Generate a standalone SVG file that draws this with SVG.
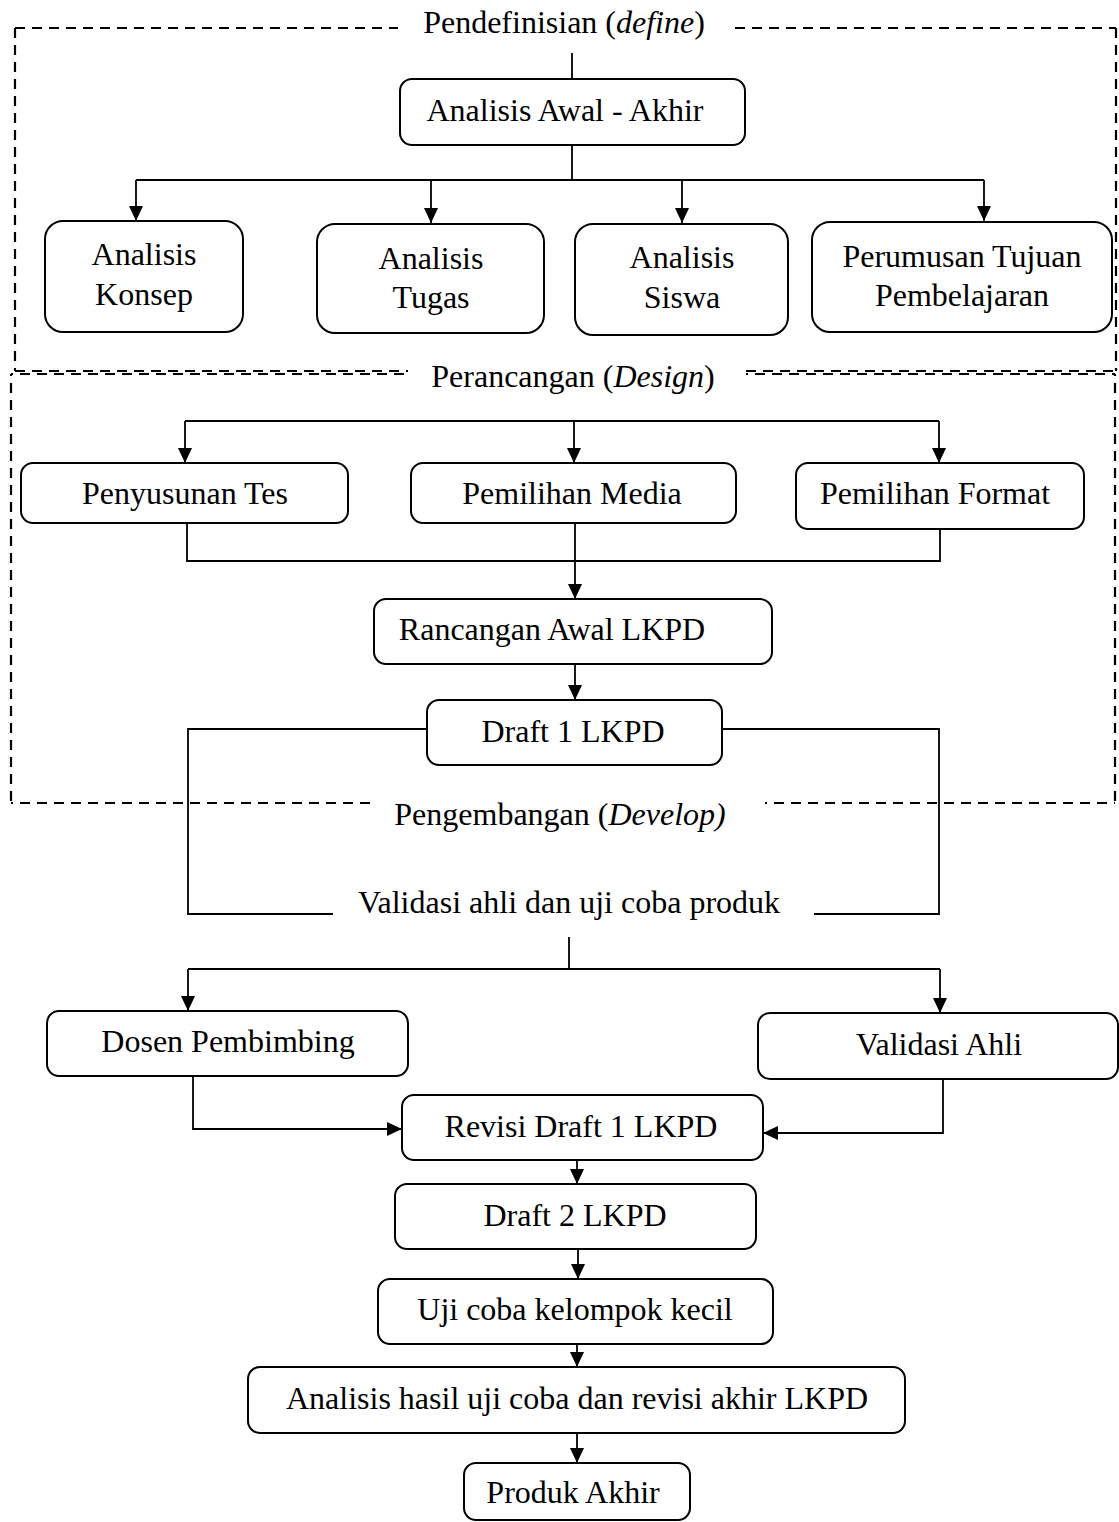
<svg xmlns="http://www.w3.org/2000/svg" width="1119" height="1522" viewBox="0 0 1119 1522">
<style>
  .bg{fill:#ffffff}
  .box{fill:#ffffff;stroke:#000;stroke-width:2}
  .t{font-family:"Liberation Serif","Times New Roman",serif;font-size:32px;fill:#000;text-anchor:middle}
  .c{fill:none;stroke:#000;stroke-width:1.8}
  .a{fill:none;stroke:#000;stroke-width:1.8;marker-end:url(#arr)}
  .d{fill:none;stroke:#000;stroke-width:2.2;stroke-dasharray:10 7}
</style>
<defs>
  <marker id="arr" markerUnits="userSpaceOnUse" markerWidth="15" markerHeight="14" refX="15" refY="7" orient="auto">
    <path d="M0,0 L15,7 L0,14 z" fill="#000"/>
  </marker>
</defs>
<rect class="bg" x="0" y="0" width="1119" height="1522"/>

<g id="phase-boxes">
  <path class="d" d="M15,28 H398 M735,28 H1116 M15,28 V371 M1116,28 V371 M15,371 H408 M746,371 H1116"/>
  <path class="d" style="stroke-dashoffset:8" d="M11,374 H408 M746,374 H1115 M11,374 V803 M1115,374 V803 M11,803 H375 M765,803 H1115"/>
  <text class="t" x="564" y="33">Pendefinisian (<tspan font-style="italic">define</tspan>)</text>
  <text class="t" x="573" y="387">Perancangan (<tspan font-style="italic">Design</tspan>)</text>
  <text class="t" x="560" y="825">Pengembangan (<tspan font-style="italic">Develop)</tspan></text>
  <text class="t" x="569" y="913">Validasi ahli dan uji coba produk</text>
</g>

<g id="connectors">
  <path class="c" d="M572,53 V79 M572,145 V180 M136,180 H984"/>
  <path class="a" d="M136,180 V221"/>
  <path class="a" d="M431,180 V223"/>
  <path class="a" d="M682,180 V223"/>
  <path class="a" d="M984,180 V221"/>
  <path class="c" d="M185,421 H939"/>
  <path class="a" d="M185,421 V463"/>
  <path class="a" d="M574,421 V463"/>
  <path class="a" d="M939,421 V463"/>
  <path class="c" d="M187,523 V561 H940 V529"/>
  <path class="a" d="M575,523 V599"/>
  <path class="a" d="M575,664 V700"/>
  <path class="c" d="M427,729 H188 V914 H333 M722,729 H939 V914 H814"/>
  <path class="c" d="M569,937 V969 M188,969 H940"/>
  <path class="a" d="M188,969 V1011"/>
  <path class="a" d="M940,969 V1013"/>
  <path class="a" d="M193,1076 V1129 H402"/>
  <path class="a" d="M943,1079 V1133 H763"/>
  <path class="a" d="M577,1160 V1184"/>
  <path class="a" d="M578,1249 V1279"/>
  <path class="a" d="M577,1344 V1367"/>
  <path class="a" d="M577,1433 V1463"/>
</g>

<g id="n-analisis-awal-akhir">
  <rect class="box" x="400" y="79" width="345" height="66" rx="12"/>
  <text class="t" x="565" y="121">Analisis Awal - Akhir</text>
</g>
<g id="n-analisis-konsep">
  <rect class="box" x="45" y="221" width="198" height="111" rx="18"/>
  <text class="t" x="144" y="265">Analisis</text>
  <text class="t" x="144" y="305">Konsep</text>
</g>
<g id="n-analisis-tugas">
  <rect class="box" x="317" y="224" width="227" height="109" rx="18"/>
  <text class="t" x="431" y="269">Analisis</text>
  <text class="t" x="431" y="308">Tugas</text>
</g>
<g id="n-analisis-siswa">
  <rect class="box" x="575" y="224" width="213" height="111" rx="18"/>
  <text class="t" x="682" y="268">Analisis</text>
  <text class="t" x="682" y="308">Siswa</text>
</g>
<g id="n-perumusan">
  <rect class="box" x="812" y="222" width="300" height="110" rx="18"/>
  <text class="t" x="962" y="267">Perumusan Tujuan</text>
  <text class="t" x="962" y="306">Pembelajaran</text>
</g>
<g id="n-penyusunan-tes">
  <rect class="box" x="21" y="463" width="327" height="60" rx="12"/>
  <text class="t" x="185" y="504">Penyusunan Tes</text>
</g>
<g id="n-pemilihan-media">
  <rect class="box" x="411" y="463" width="325" height="60" rx="12"/>
  <text class="t" x="572" y="504">Pemilihan Media</text>
</g>
<g id="n-pemilihan-format">
  <rect class="box" x="796" y="463" width="288" height="66" rx="12"/>
  <text class="t" x="935" y="504">Pemilihan Format</text>
</g>
<g id="n-rancangan-awal">
  <rect class="box" x="374" y="599" width="398" height="65" rx="12"/>
  <text class="t" x="552" y="640">Rancangan Awal LKPD</text>
</g>
<g id="n-draft1">
  <rect class="box" x="427" y="700" width="295" height="65" rx="12"/>
  <text class="t" x="573" y="742">Draft 1 LKPD</text>
</g>
<g id="n-dosen">
  <rect class="box" x="47" y="1011" width="361" height="65" rx="12"/>
  <text class="t" x="228" y="1052">Dosen Pembimbing</text>
</g>
<g id="n-validasi-ahli">
  <rect class="box" x="758" y="1013" width="360" height="66" rx="12"/>
  <text class="t" x="939" y="1055">Validasi Ahli</text>
</g>
<g id="n-revisi">
  <rect class="box" x="402" y="1095" width="361" height="65" rx="12"/>
  <text class="t" x="581" y="1137">Revisi Draft 1 LKPD</text>
</g>
<g id="n-draft2">
  <rect class="box" x="395" y="1184" width="361" height="65" rx="12"/>
  <text class="t" x="575" y="1226">Draft 2 LKPD</text>
</g>
<g id="n-uji-coba">
  <rect class="box" x="378" y="1279" width="395" height="65" rx="12"/>
  <text class="t" x="575" y="1320">Uji coba kelompok kecil</text>
</g>
<g id="n-analisis-hasil">
  <rect class="box" x="248" y="1367" width="657" height="66" rx="12"/>
  <text class="t" x="577" y="1409">Analisis hasil uji coba dan revisi akhir LKPD</text>
</g>
<g id="n-produk-akhir">
  <rect class="box" x="464" y="1463" width="226" height="57" rx="12"/>
  <text class="t" x="573" y="1503">Produk Akhir</text>
</g>
</svg>
